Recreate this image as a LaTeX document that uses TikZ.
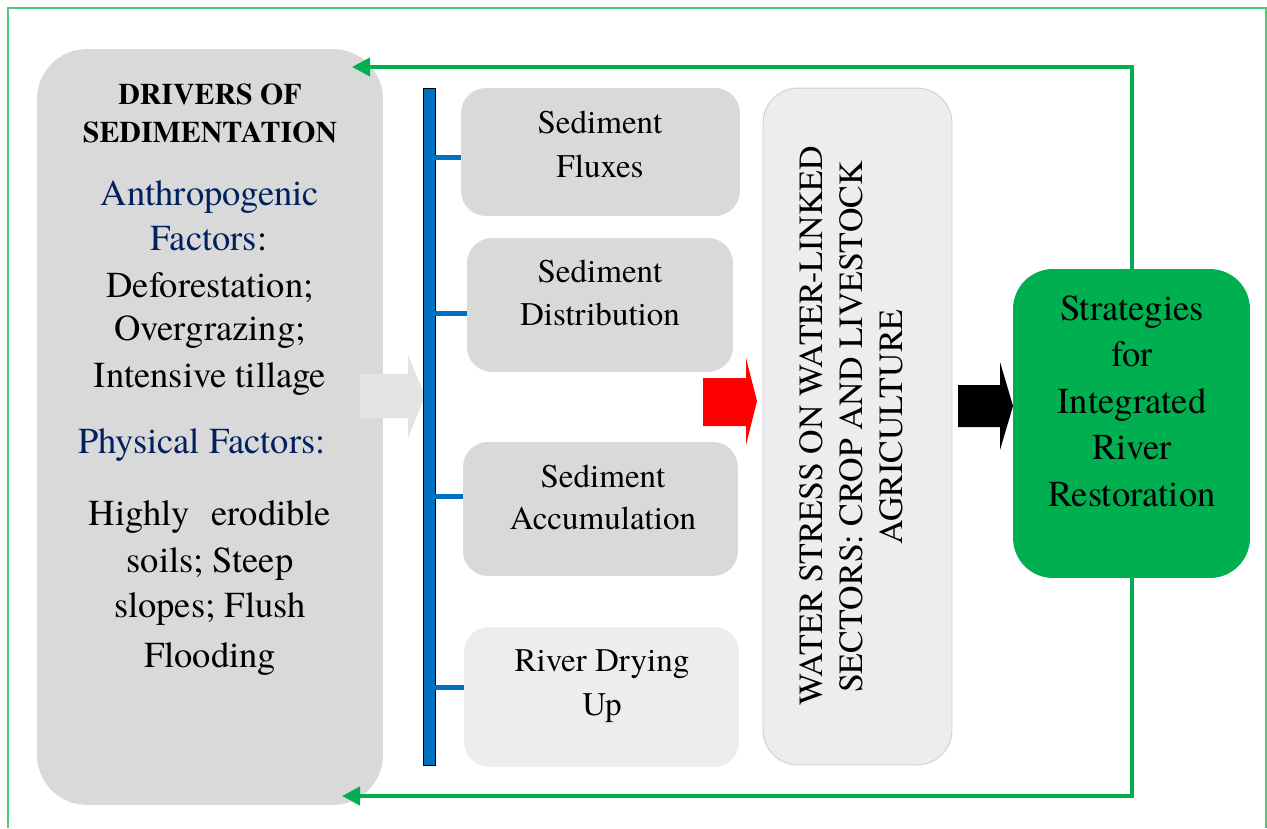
\documentclass[tikz,border=0pt]{standalone}
\usepackage{fontspec}
\setmainfont{texgyretermes}[Extension=.otf, UprightFont=*-regular, BoldFont=*-bold, ItalicFont=*-italic, BoldItalicFont=*-bolditalic]
\usetikzlibrary{arrows.meta}
\definecolor{boxgray}{HTML}{D9D9D9}
\definecolor{paleGray}{HTML}{EDEDED}
\definecolor{tallBorder}{HTML}{CFCFCF}
\definecolor{arrowGray}{HTML}{E3E3E3}
\definecolor{connGreen}{HTML}{00B050}
\definecolor{frameGreen}{HTML}{4CC97A}
\definecolor{navy}{HTML}{002060}
\definecolor{barBlue}{HTML}{0070C0}
\tikzset{
  ln/.style={anchor=base, inner sep=0pt, outer sep=0pt},
  bigtxt/.style={font=\fontsize{20.8pt}{25pt}\selectfont},
  hdrtxt/.style={font=\bfseries\fontsize{17pt}{20pt}\selectfont},
  sedtxt/.style={font=\fontsize{18.8pt}{22pt}\selectfont},
  rottxt/.style={font=\fontsize{19.3pt}{22pt}\selectfont, rotate=90},
  blk/.style={inner sep=0pt, outer sep=0pt},
  sedbox/.style={blk, fill=boxgray, rounded corners=0.5cm},
  conn/.style={draw=connGreen, line width=0.08cm, -{Triangle[length=0.36cm,width=0.36cm]}},
  tickline/.style={draw=barBlue, line width=0.1cm},
  frameline/.style={draw=frameGreen, line width=0.03cm},
}
\begin{document}
\begin{tikzpicture}[x=0.02cm, y=-0.02cm]
\useasboundingbox (0,0) rectangle (1267,828);
% outer frame
\draw[frameline] (8,828) -- (8,8) -- (1266,8) -- (1266,828);

% left box
\node[blk, fill=boxgray, rounded corners=1cm, minimum width=6.92cm, minimum height=15.12cm] (drivers) at (210,427) {};
\node[ln, hdrtxt] (h1) at (210,105) {DRIVERS OF};
\node[ln, hdrtxt] (h2) at (210,142) {SEDIMENTATION};
\node[ln, bigtxt, text=navy] (a1) at (210,205) {Anthropogenic};
\node[ln, bigtxt] (a2) at (209,250) {\textcolor{navy}{Factors}:};
\node[ln, bigtxt] (a3) at (210,297) {Deforestation;};
\node[ln, bigtxt] (a4) at (210,340) {Overgrazing;};
\node[ln, bigtxt] (a5) at (210,387) {Intensive tillage};
\node[ln, bigtxt, text=navy] (p1) at (202,453) {Physical Factors:};
\node[ln, bigtxt] (p2) at (210,525) {Highly\hspace{0.35em} erodible};
\node[ln, bigtxt] (p3) at (210,572) {soils; Steep};
\node[ln, bigtxt] (p4) at (210,617) {slopes; Flush};
\node[ln, bigtxt] (p5) at (210,667) {Flooding};

% gray block arrow
\fill[arrowGray] (360,374) -- (408,374) -- (408,355) -- (425,396) -- (408,438) -- (408,418) -- (360,418) -- cycle;

% blue bar
\node[blk, fill=barBlue, draw=black, line width=0.4pt, minimum width=0.24cm, minimum height=13.54cm] (bar) at (429,426.5) {};

% sediment boxes
\node[sedbox, minimum width=5.58cm, minimum height=2.56cm] (b1) at (600.5,152) {};
\node[sedbox, minimum width=5.32cm, minimum height=2.68cm] (b2) at (600,305) {};
\node[sedbox, minimum width=5.5cm, minimum height=2.68cm] (b3) at (600.5,509) {};
\node[sedbox, fill=paleGray, minimum width=5.5cm, minimum height=2.8cm] (b4) at (601.5,697) {};

\node[ln, sedtxt] (s1a) at (600,133) {Sediment};
\node[ln, sedtxt] (s1b) at (600,177) {Fluxes};
\node[ln, sedtxt] (s2a) at (600,282) {Sediment};
\node[ln, sedtxt] (s2b) at (600,325) {Distribution};
\node[ln, sedtxt] (s3a) at (603,487) {Sediment};
\node[ln, sedtxt] (s3b) at (603,529) {Accumulation};
\node[ln, sedtxt] (s4a) at (602,671) {River Drying};
\node[ln, sedtxt] (s4b) at (602,715) {Up};

% ticks
\coordinate (t1) at (0,157);
\coordinate (t2) at (0,313);
\coordinate (t3) at (0,496);
\coordinate (t4) at (0,687);
\draw[tickline] (bar.east |- t1) -- (b1.west |- t1);
\draw[tickline] (bar.east |- t2) -- (b2.west |- t2);
\draw[tickline] (bar.east |- t3) -- (b3.west |- t3);
\draw[tickline] (bar.east |- t4) -- (b4.west |- t4);

% red block arrow
\fill[red] (703,378) -- (746,378) -- (746,358) -- (757,401) -- (746,445) -- (746,426) -- (703,426) -- cycle;

% tall box
\node[blk, fill=paleGray, draw=tallBorder, line width=0.5pt, rounded corners=0.7cm, minimum width=3.78cm, minimum height=13.54cm] (stress) at (857.5,426.5) {};
\node[ln, rottxt] (r1) at (822,426) {WATER STRESS ON WATER-LINKED};
\node[ln, rottxt] (r2) at (862,427) {SECTORS: CROP AND LIVESTOCK};
\node[ln, rottxt] (r3) at (902,427) {AGRICULTURE};

% black block arrow
\fill[black] (958,385) -- (1000,385) -- (1000,362) -- (1013,406) -- (1000,450) -- (1000,427) -- (958,427) -- cycle;

% green box
\node[blk, fill=connGreen, rounded corners=0.8cm, minimum width=4.74cm, minimum height=6.18cm] (green) at (1131.5,423.5) {};
\node[ln, bigtxt] (g1) at (1132,320) {Strategies};
\node[ln, bigtxt] (g2) at (1132,366.5) {for};
\node[ln, bigtxt] (g3) at (1132,413) {Integrated};
\node[ln, bigtxt] (g4) at (1132,459.5) {River};
\node[ln, bigtxt] (g5) at (1132,506) {Restoration};

% feedback connectors
\coordinate (topTip) at (352,67);
\coordinate (botTip) at (342,796);
\draw[conn] (green.north) |- (topTip);
\draw[conn] (green.south) |- (botTip);
\end{tikzpicture}
\end{document}
